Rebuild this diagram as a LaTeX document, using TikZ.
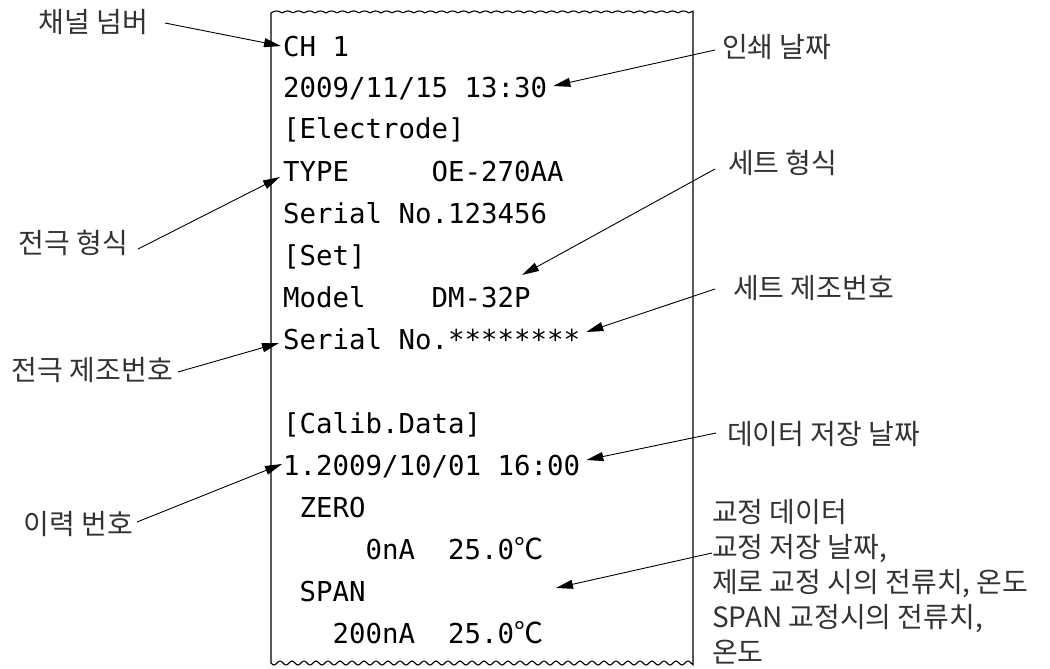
\documentclass[tikz,border=0pt]{standalone}
\usepackage{fontspec}
\setmonofont{DejaVu Sans Mono}
\newfontfamily\kr{Noto Sans CJK KR}
\usetikzlibrary{arrows.meta}
\newcommand\mydegc{{\kr\fontsize{29}{29}\selectfont ℃}}
\tikzset{
  prt/.style={font=\ttfamily\fontsize{27.4}{30}\selectfont, inner sep=0pt, anchor=base west},
  lbl/.style={font=\kr\fontsize{28}{35}\selectfont, text=black!80, inner sep=0pt},
  arr/.style={line width=0.9pt, -{Triangle[length=17pt,width=9pt]}},
  paper/.style={line width=1.1pt}
}
\begin{document}
\begin{tikzpicture}[x=1pt,y=-1pt]
\useasboundingbox (0,0) rectangle (1050,669);
% paper
\draw[paper] plot[domain=271:693,samples=300] (\x,{13-2*abs(sin(((\x-271)/11)*180))})
  -- (693,663)
  -- plot[domain=693:271,samples=300] (\x,{663+2*sin(((\x-271)/12)*360)}) -- cycle;
% printout
\node[prt] (p1) at (283,57) {CH 1};
\node[prt] (p2) at (283,97) {2009/11/15 13:30};
\node[prt] (p3) at (283,139) {[Electrode]};
\node[prt] (p4) at (283,181) {TYPE~~~~~OE-270AA};
\node[prt] (p5) at (283,223) {Serial No.123456};
\node[prt] (p6) at (283,265) {[Set]};
\node[prt] (p7) at (283,307) {Model~~~~DM-32P};
\node[prt] (p8) at (283,349) {Serial No.********};
\node[prt] (p9) at (283,433) {[Calib.Data]};
\node[prt] (p10) at (283,475) {1.2009/10/01 16:00};
\node[prt] (p11) at (283,517) {~ZERO};
\node[prt] (p12) at (283,559) {~~~~~0nA~~25.0\mydegc};
\node[prt] (p13) at (283,601) {~SPAN};
\node[prt] (p14) at (283,643) {~~~200nA~~25.0\mydegc};
% labels
\node[lbl, anchor=east] (lch) at (148,22) {채널 넘버};
\node[lbl, anchor=west] (ldate) at (722,47) {인쇄 날짜};
\node[lbl, anchor=east] (ltype) at (128,243) {전극 형식};
\node[lbl, anchor=west] (lset) at (728,163) {세트 형식};
\node[lbl, anchor=west] (lsetser) at (733,288) {세트 제조번호};
\node[lbl, anchor=east] (leser) at (173,370) {전극 제조번호};
\node[lbl, anchor=west] (lsave) at (727,434) {데이터 저장 날짜};
\node[lbl, anchor=east] (lhist) at (133,524) {이력 번호};
\node[lbl, anchor=west, align=left] (lcal) at (712,582)
  {교정 데이터\\교정 저장 날짜,\\제로 교정 시의 전류치, 온도\\SPAN 교정시의 전류치,\\온도};
% arrow targets
\coordinate (tset) at (522,275);
\coordinate (tcal) at (556,588);
% connectors
\draw[arr] ([shift={(17,1)}]lch.east) -- ([shift={(-2,-11)}]p1.base west);
\draw[arr] ([shift={(-7,3)}]ldate.west) -- ([shift={(6,-11)}]p2.base east);
\draw[arr] ([shift={(10,6)}]ltype.east) -- ([shift={(-3,-4)}]p4.base west);
\draw[arr] ([shift={(-13,6)}]lset.west) -- (tset);
\draw[arr] ([shift={(-18,1)}]lsetser.west) -- ([shift={(6,-17)}]p8.base east);
\draw[arr] ([shift={(5,2)}]leser.east) -- ([shift={(-4,-6)}]p8.base west);
\draw[arr] ([shift={(-11,-1)}]lsave.west) -- ([shift={(6,-15)}]p10.base east);
\draw[arr] ([shift={(0,-29)}]lcal.west) -- (tcal);
\draw[arr] ([shift={(4,-2)}]lhist.east) -- ([shift={(-1,-11)}]p10.base west);
\end{tikzpicture}
\end{document}
